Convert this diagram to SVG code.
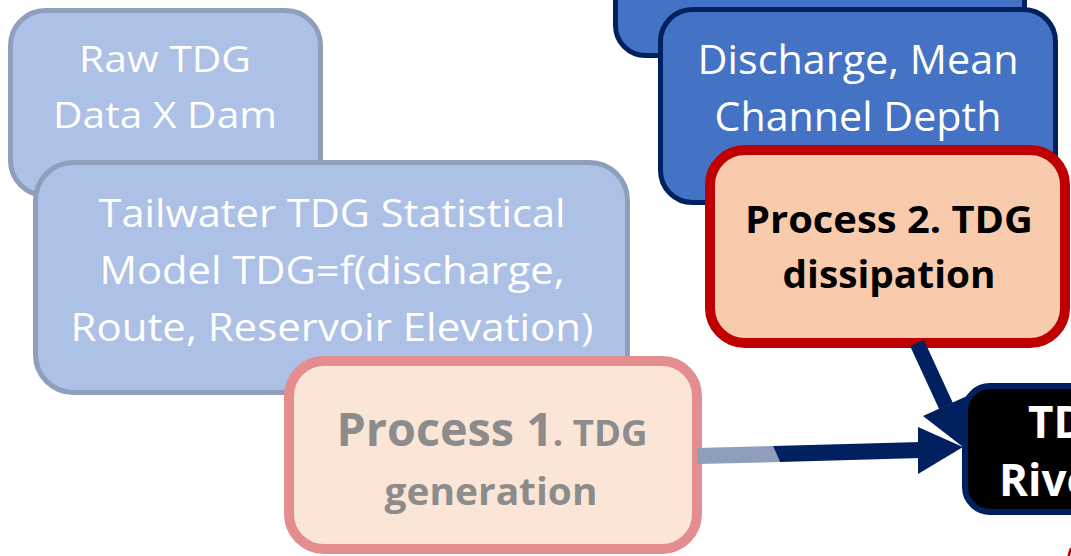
<svg xmlns="http://www.w3.org/2000/svg" width="1071" height="556" viewBox="0 0 1071 556">
<style>
.light{fill:#ADC0E5;stroke:#8E9EBB;stroke-width:5}
.dark{fill:#4472C4;stroke:#002060;stroke-width:5}
.p1{fill:#FBE5D6;stroke:#E38D8F;stroke-width:10}
.p2{fill:#F8CBAD;stroke:#C00000;stroke-width:10}
.out{fill:#000000;stroke:#002060;stroke-width:6}
text{font-family:"Open Sans","Liberation Sans",sans-serif;text-anchor:middle}
.w{fill:#FFFFFF}
.b{font-weight:bold}
.g{fill:#8C8C8C}
.k{fill:#000000}
.navy{fill:#002060}
</style>
<rect width="1071" height="556" fill="#FFFFFF"/>
<g id="node-top">
<rect class="dark" x="615.5" y="-45" width="409" height="100.5" rx="30"/>
</g>
<g id="node-discharge">
<rect class="dark" x="660.5" y="9.5" width="395" height="193" rx="32"/>
<text class="w" font-size="40" x="858" y="74" textLength="321" lengthAdjust="spacingAndGlyphs">Discharge, Mean</text>
<text class="w" font-size="40" x="858" y="131" textLength="287" lengthAdjust="spacingAndGlyphs">Channel Depth</text>
</g>
<g id="node-process2">
<rect class="p2" x="710" y="150" width="355" height="193" rx="35"/>
<text class="k b" font-size="38" x="889" y="233" textLength="288" lengthAdjust="spacingAndGlyphs">Process 2. TDG</text>
<text class="k b" font-size="38" x="889" y="288" textLength="213" lengthAdjust="spacingAndGlyphs">dissipation</text>
</g>
<g id="node-raw">
<rect class="light" x="10.5" y="10.5" width="310" height="185" rx="35"/>
<text class="w" font-size="36" x="165" y="72" textLength="172" lengthAdjust="spacingAndGlyphs">Raw TDG</text>
<text class="w" font-size="36" x="165" y="128" textLength="224" lengthAdjust="spacingAndGlyphs">Data X Dam</text>
</g>
<g id="node-tailwater">
<rect class="light" x="35.5" y="162.5" width="592" height="230" rx="38"/>
<text class="w" font-size="38" x="332" y="227" textLength="467" lengthAdjust="spacingAndGlyphs">Tailwater TDG Statistical</text>
<text class="w" font-size="38" x="332" y="284" textLength="465" lengthAdjust="spacingAndGlyphs">Model TDG=f(discharge,</text>
<text class="w" font-size="38" x="332" y="341" textLength="523" lengthAdjust="spacingAndGlyphs">Route, Reservoir Elevation)</text>
</g>
<g id="node-process1">
<rect class="p1" x="289" y="361" width="408" height="188" rx="35"/>
<text class="g b" x="492" y="446" textLength="311" lengthAdjust="spacingAndGlyphs"><tspan font-size="46">Process 1</tspan><tspan font-size="36">. TDG</tspan></text>
<text class="g b" font-size="38" x="491" y="505" textLength="213" lengthAdjust="spacingAndGlyphs">generation</text>
</g>
<g id="node-river">
<rect class="out" x="965" y="386" width="160" height="126" rx="25"/>
<text class="w b" font-size="44" x="1028" y="438" style="text-anchor:start">TDG</text>
<text class="w b" font-size="44" x="999" y="496" style="text-anchor:start">River</text>
</g>
<g id="connectors">
<polygon points="697,448 773,446 780,462 697,464" fill="#8E9EBB"/>
<polygon class="navy" points="773,446 921,442 921,458 780,462"/>
<polygon class="navy" points="918,427 963,447 918,474"/>
<line x1="917" y1="343" x2="946" y2="406" stroke="#002060" stroke-width="15"/>
<polygon class="navy" points="923,416 967,396 963,447"/>
<path d="M1068.5,556 L1071,548" stroke="#C00000" stroke-width="2.5" fill="none"/>
</g>
</svg>
